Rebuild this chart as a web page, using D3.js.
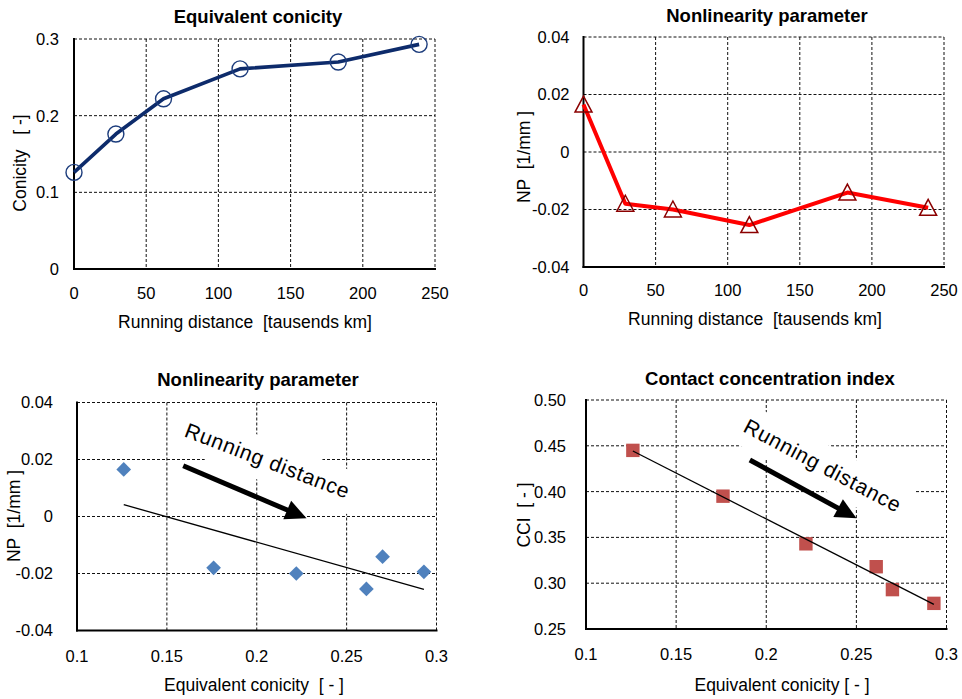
<!DOCTYPE html>
<html><head><meta charset="utf-8">
<script src="https://cdn.jsdelivr.net/npm/d3@7"></script>
<style>
body{margin:0;background:#fff}
svg{display:block}
text{font-family:"Liberation Sans",Arial,sans-serif;fill:#000}
</style>
</head><body>
<svg id="c" width="962" height="699"></svg>
<script>
// ---- data ----
const distance = [0, 29, 62, 115, 183, 239];            // thousand km
const conicity = [0.126, 0.176, 0.222, 0.261, 0.270, 0.293];
const np = [0.0165, -0.018, -0.020, -0.0254, -0.0141, -0.0194];
const cci = [0.445, 0.395, 0.343, 0.318, 0.293, 0.278];

const distanceTicks = [0, 50, 100, 150, 200, 250];
const conicityTicks = [0, 0.1, 0.2, 0.3];
const npTicks = [-0.04, -0.02, 0, 0.02, 0.04];
const conicityXTicks = [0.1, 0.15, 0.2, 0.25, 0.3];
const cciTicks = [0.25, 0.30, 0.35, 0.40, 0.45, 0.50];

const titles = ["Equivalent conicity", "Nonlinearity parameter", "Nonlinearity parameter", "Contact concentration index"];
const xTitles = ["Running distance  [tausends km]", "Running distance  [tausends km]", "Equivalent conicity  [ - ]", "Equivalent conicity [ - ]"];
const yTitles = ["Conicity   [ -]", "NP  [1/mm ]", "NP  [1/mm ]", "CCI  [ - ]"];
const annotation = "Running distance";
// annotation anchors in data units: [textX, textY, arrowTailX, arrowTailY, arrowTipX, arrowTipY]
const annot3 = [0.1591, 0.0282, 0.1591, 0.0178, 0.2277, -0.0006];
const annot4 = [0.1866, 0.4662, 0.1909, 0.4345, 0.2501, 0.3710];

// ---- layout ----
const svg = d3.select("#c");
const fmtPlain = d => String(d);
const fmtNP = d => d === 0 ? "0" : d.toFixed(2);
const fmt2 = d => d.toFixed(2);

const panels = [
  {L:74, R:435, T:39, B:269, xd:[0,250], yd:[0,0.3], xt:distanceTicks, yt:conicityTicks, xf:fmtPlain, yf:fmtPlain,
   xOff:30, yOff:15, tX:258, tY:23, xtX:245, xtY:328, ytX:26, ytY:163},
  {L:583.5, R:944, T:37, B:267, xd:[0,250], yd:[-0.04,0.04], xt:distanceTicks, yt:npTicks, xf:fmtPlain, yf:fmtNP,
   xOff:29, yOff:14, tX:767, tY:22, xtX:755, xtY:325, ytX:530, ytY:157},
  {L:77, R:436.5, T:402.5, B:630.5, xd:[0.1,0.3], yd:[-0.04,0.04], xt:conicityXTicks, yt:npTicks, xf:fmtPlain, yf:fmtNP,
   xOff:31, yOff:24, tX:258, tY:386, xtX:254, xtY:691, ytX:20, ytY:516},
  {L:586, R:946.5, T:400, B:629, xd:[0.1,0.3], yd:[0.25,0.5], xt:conicityXTicks, yt:cciTicks, xf:fmtPlain, yf:fmt2,
   xOff:31, yOff:20, tX:770, tY:385, xtX:782, xtY:691, ytX:530, ytY:515}
];

panels.forEach((p, i) => {
  p.x = d3.scaleLinear().domain(p.xd).range([p.L, p.R]);
  p.y = d3.scaleLinear().domain(p.yd).range([p.B, p.T]);
  const g = svg.append("g");
  p.g = g;
  // grid
  g.selectAll(".gx").data(p.xt).join("line")
    .attr("x1", d => p.x(d)).attr("x2", d => p.x(d)).attr("y1", p.T).attr("y2", p.B)
    .attr("stroke", "#111").attr("stroke-width", 1).attr("stroke-dasharray", "3,2");
  g.selectAll(".gy").data(p.yt).join("line")
    .attr("x1", p.L).attr("x2", p.R).attr("y1", d => p.y(d)).attr("y2", d => p.y(d))
    .attr("stroke", "#111").attr("stroke-width", 1).attr("stroke-dasharray", "3,2");
  p.annLayer = g.append("g");
  // axes
  g.append("line").attr("x1", p.L).attr("x2", p.L).attr("y1", p.T - 1).attr("y2", p.B + 1)
    .attr("stroke", "#000").attr("stroke-width", 2);
  g.append("line").attr("x1", p.L - 1).attr("x2", p.R + 1).attr("y1", p.B).attr("y2", p.B)
    .attr("stroke", "#000").attr("stroke-width", 2);
  // tick labels
  g.selectAll(".tx").data(p.xt).join("text")
    .attr("x", d => p.x(d)).attr("y", p.B + p.xOff).attr("text-anchor", "middle")
    .style("font-size", "16.5px").text(p.xf);
  g.selectAll(".ty").data(p.yt).join("text")
    .attr("x", p.L - p.yOff).attr("y", d => p.y(d)).attr("dy", "0.36em").attr("text-anchor", "end")
    .style("font-size", "16.5px").text(p.yf);
  // titles
  g.append("text").attr("x", p.tX).attr("y", p.tY).attr("text-anchor", "middle")
    .style("font-size", "18.5px").style("font-weight", "bold").text(titles[i]);
  g.append("text").attr("x", p.xtX).attr("y", p.xtY).attr("text-anchor", "middle")
    .style("font-size", "17.5px").style("white-space", "pre").text(xTitles[i]);
  g.append("text").attr("transform", `translate(${p.ytX},${p.ytY}) rotate(-90)`).attr("text-anchor", "middle")
    .style("font-size", "17.5px").style("white-space", "pre").text(yTitles[i]);
});

// ---- Panel 1: conicity vs distance ----
{
  const p = panels[0];
  const pts = distance.map((d, k) => [d, conicity[k]]);
  p.g.append("path").datum(pts)
    .attr("d", d3.line().x(d => p.x(d[0])).y(d => p.y(d[1])))
    .attr("fill", "none").attr("stroke", "#0d2b6b").attr("stroke-width", 3.6).attr("stroke-linejoin", "round");
  p.g.selectAll(".m").data(pts).join("circle")
    .attr("cx", d => p.x(d[0])).attr("cy", d => p.y(d[1])).attr("r", 8)
    .attr("fill", "none").attr("stroke", "#1c3c7c").attr("stroke-width", 1.4);
}
// ---- Panel 2: NP vs distance ----
{
  const p = panels[1];
  const pts = distance.map((d, k) => [d, np[k]]);
  p.g.append("path").datum(pts)
    .attr("d", d3.line().x(d => p.x(d[0])).y(d => p.y(d[1])))
    .attr("fill", "none").attr("stroke", "#ff0000").attr("stroke-width", 4).attr("stroke-linejoin", "round");
  p.g.selectAll(".m").data(pts).join("path")
    .attr("transform", d => `translate(${p.x(d[0])},${p.y(d[1])})`)
    .attr("d", "M0,-8.5L8.5,7.5L-8.5,7.5Z")
    .attr("fill", "none").attr("stroke", "#8b0000").attr("stroke-width", 1.5);
}

function regression(xs, ys) {
  const mx = d3.mean(xs), my = d3.mean(ys);
  const sxy = d3.sum(xs, (x, k) => (x - mx) * (ys[k] - my));
  const sxx = d3.sum(xs, x => (x - mx) * (x - mx));
  const b = sxy / sxx, a = my - b * mx;
  const x0 = d3.min(xs), x1 = d3.max(xs);
  return [[x0, a + b * x0], [x1, a + b * x1]];
}

function annotate(p, a, angle) {
  const tx = p.x(a[0]), ty = p.y(a[1]);
  const lay = p.annLayer;
  const tg = svg.append("g").attr("transform", `translate(${tx},${ty}) rotate(${angle})`);
  const t = tg.append("text").attr("x", 0).attr("y", 0)
    .style("font-size", "21px").style("letter-spacing", "0.8px").text(annotation);
  const len = t.node().getComputedTextLength();
  lay.append("rect").attr("transform", `translate(${tx},${ty}) rotate(${angle})`)
    .attr("x", -5).attr("y", -28).attr("width", len + 12).attr("height", 42).attr("fill", "#fff");
  // arrow
  const x1 = p.x(a[2]), y1 = p.y(a[3]), x2 = p.x(a[4]), y2 = p.y(a[5]);
  const ang = Math.atan2(y2 - y1, x2 - x1);
  const hl = 21, hw = 10;
  const bx = x2 - hl * Math.cos(ang), by = y2 - hl * Math.sin(ang);
  svg.append("line").attr("x1", x1).attr("y1", y1).attr("x2", bx + 2 * Math.cos(ang)).attr("y2", by + 2 * Math.sin(ang))
    .attr("stroke", "#000").attr("stroke-width", 5);
  const nx = -Math.sin(ang), ny = Math.cos(ang);
  svg.append("path")
    .attr("d", `M${x2},${y2}L${bx + hw * nx},${by + hw * ny}L${bx - hw * nx},${by - hw * ny}Z`)
    .attr("fill", "#000");
}

// ---- Panel 3: NP vs conicity ----
{
  const p = panels[2];
  const pts = conicity.map((c, k) => [c, np[k]]);
  const tr = regression(conicity, np);
  p.g.append("path").datum(tr)
    .attr("d", d3.line().x(d => p.x(d[0])).y(d => p.y(d[1])))
    .attr("stroke", "#000").attr("stroke-width", 1.3).attr("fill", "none");
  p.g.selectAll(".m").data(pts).join("rect")
    .attr("transform", d => `translate(${p.x(d[0])},${p.y(d[1])}) rotate(45)`)
    .attr("x", -5.2).attr("y", -5.2).attr("width", 10.4).attr("height", 10.4)
    .attr("fill", "#4f81bd");
  annotate(p, annot3, 21);
}
// ---- Panel 4: CCI vs conicity ----
{
  const p = panels[3];
  const pts = conicity.map((c, k) => [c, cci[k]]);
  p.g.selectAll(".m").data(pts).join("rect")
    .attr("x", d => p.x(d[0]) - 6.7).attr("y", d => p.y(d[1]) - 6.7).attr("width", 13.4).attr("height", 13.4)
    .attr("fill", "#c0504d");
  const tr = regression(conicity, cci);
  p.g.append("path").datum(tr)
    .attr("d", d3.line().x(d => p.x(d[0])).y(d => p.y(d[1])))
    .attr("stroke", "#000").attr("stroke-width", 1.3).attr("fill", "none");
  annotate(p, annot4, 28);
}
</script>
</body></html>
